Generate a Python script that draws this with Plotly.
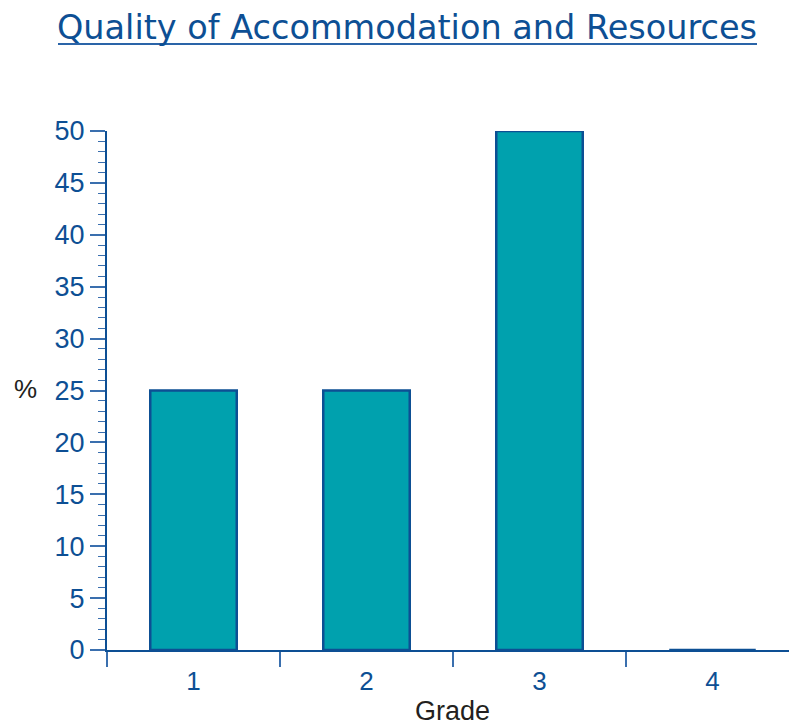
import plotly.graph_objects as go

grades = ["1", "2", "3", "4"]
percent = [25, 25, 50, 0]
title_text = "Quality of Accommodation and Resources"
y_label = "%"
x_label = "Grade"

BLUE = "#0d4f94"
TICK = "#3a6fae"
TEAL = "#00a1ae"
INK = "#231f20"

# page body has an 8px margin, so the figure is sized to fill the window from there
W, H = 789, 718
L, R, T, B = 99, 0, 123, 76
plot_w = W - L - R
plot_h = H - T - B

fig = go.Figure()
fig.add_trace(go.Bar(
    x=grades, y=percent, width=0.5,
    marker=dict(color=TEAL, line=dict(color=BLUE, width=2.5)),
))

fig.update_layout(
    width=W, height=H,
    margin=dict(l=L, r=R, t=T, b=B, autoexpand=False),
    paper_bgcolor="white", plot_bgcolor="white",
    showlegend=False,
    title=dict(text=title_text, x=399 / W, xref="container", xanchor="center",
               y=1 - 19.6 / H, yref="container", yanchor="middle",
               font=dict(family="DejaVu Sans", size=33.5, color=BLUE)),
    font=dict(family="Liberation Sans", color=BLUE),
)

fig.add_shape(type="line", xref="paper", yref="paper",
              x0=(50 - L) / plot_w, x1=(749 - L) / plot_w,
              y0=(642 - 36) / plot_h, y1=(642 - 36) / plot_h,
              line=dict(color="#2a64a8", width=2))

fig.add_annotation(text=y_label, xref="paper", yref="paper",
                   x=(17 - L) / plot_w, y=(642 - 381) / plot_h,
                   showarrow=False, xanchor="center", yanchor="middle",
                   font=dict(size=26, color=INK, family="Liberation Sans"))

fig.add_annotation(text=x_label, xref="paper", yref="paper",
                   x=(444 - L) / plot_w, y=(642 - 702.5) / plot_h,
                   showarrow=False, xanchor="center", yanchor="middle",
                   font=dict(size=27, color=INK, family="Liberation Sans"))

fig.update_xaxes(
    type="category", range=[-0.5, -0.5 + plot_w / 173], tickson="boundaries",
    ticks="outside", ticklen=15, tickwidth=1.5, tickcolor=TICK,
    showline=True, linecolor=BLUE, linewidth=2,
    showgrid=False, zeroline=False, automargin=False,
    ticklabelstandoff=7,
    tickfont=dict(size=26, color=BLUE, family="Liberation Sans"),
)
fig.update_yaxes(
    range=[0, 50], tickvals=list(range(0, 51, 5)),
    ticks="outside", ticklen=15, tickwidth=1.5, tickcolor=TICK,
    minor=dict(dtick=1, ticks="outside", ticklen=7, tickwidth=1.2, tickcolor=TICK, showgrid=False),
    showline=True, linecolor=BLUE, linewidth=2,
    showgrid=False, zeroline=False, automargin=False,
    tickfont=dict(size=27, color=BLUE, family="Liberation Sans"),
)

fig.write_html("out.html")
